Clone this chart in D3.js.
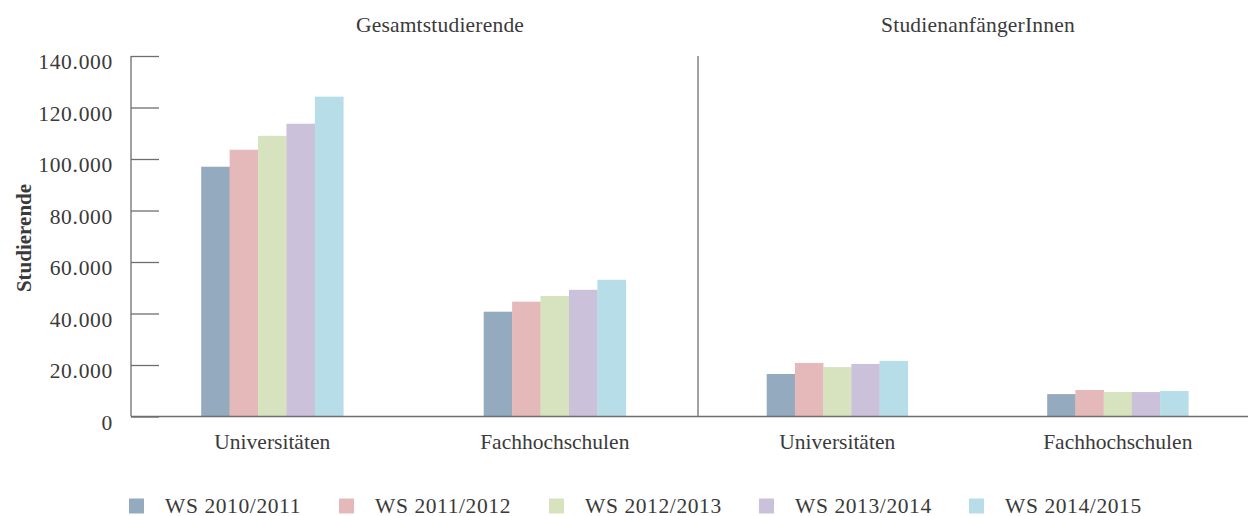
<!DOCTYPE html>
<html>
<head>
<meta charset="utf-8">
<script src="https://cdn.jsdelivr.net/npm/d3@7"></script>
<style>
  html, body { margin: 0; padding: 0; background: #fff; }
  svg { display: block; font-family: "Liberation Serif", "DejaVu Serif", serif; }
</style>
</head>
<body>
<svg id="chart" width="1248" height="516"></svg>
<script>
const panels = ["Gesamtstudierende", "StudienanfängerInnen"];
const categories = ["Universitäten", "Fachhochschulen"];
const series = ["WS 2010/2011", "WS 2011/2012", "WS 2012/2013", "WS 2013/2014", "WS 2014/2015"];
const colors = ["#94aabe", "#e5b9b9", "#d7e3bf", "#ccc1da", "#b7dee8"];
const gesamtUni = [97000, 103600, 109000, 113700, 124200];
const gesamtFH = [40700, 44600, 46800, 49200, 53100];
const anfUni = [16500, 20800, 19200, 20400, 21600];
const anfFH = [8700, 10300, 9500, 9500, 9900];
const yTicks = [0, 20000, 40000, 60000, 80000, 100000, 120000, 140000];
const yLabel = "Studierende";

const data = [
  [gesamtUni, gesamtFH],
  [anfUni, anfFH]
];

const svg = d3.select("#chart");
const textColor = "#3a3a3a";
const axisColor = "#6e6e6e";
const fs = 21.5;

const y = d3.scaleLinear().domain([0, 140000]).range([416.5, 56]);
const locale = d3.formatLocale({decimal: ",", thousands: ".", grouping: [3], currency: ["", "€"]});
const fmt = locale.format(",");

const panelRanges = [[131, 696], [697, 1258]];
const titleX = [440, 978];

// y axis
const yAxis = d3.axisLeft(y).tickValues(yTicks).tickFormat(fmt).tickSize(-28).tickPadding(18);
const gy = svg.append("g").attr("transform", "translate(131,0)").call(yAxis);
gy.select(".domain").attr("stroke", axisColor).attr("stroke-width", 1.3).attr("d", `M0,${y(140000)}V${y(0)}`);
gy.selectAll(".tick line").attr("stroke", axisColor).attr("stroke-width", 1.3);
gy.selectAll(".tick text")
  .attr("fill", textColor).attr("font-size", fs).attr("font-family", "Liberation Serif")
  .attr("letter-spacing", "0.7px")
  .attr("dy", "0.6em");

// y label
svg.append("text")
  .attr("transform", `translate(31,238) rotate(-90)`)
  .attr("text-anchor", "middle")
  .attr("font-weight", "bold")
  .attr("font-size", 21)
  .attr("fill", textColor)
  .text(yLabel);

panels.forEach((p, pi) => {
  const x0 = d3.scaleBand().domain(categories).range(panelRanges[pi])
    .paddingInner(0.497).paddingOuter(0.2485);
  const x1 = d3.scaleBand().domain(series).range([0, x0.bandwidth()]);

  const g = svg.append("g");
  categories.forEach((c, ci) => {
    g.selectAll(null).data(data[pi][ci]).enter().append("rect")
      .attr("x", (d, i) => x0(c) + x1(series[i]))
      .attr("width", x1.bandwidth() + 0.3)
      .attr("y", d => y(d))
      .attr("height", d => y(0) - y(d))
      .attr("fill", (d, i) => colors[i]);
  });

  const xAxis = d3.axisBottom(x0).tickSize(0).tickPadding(17);
  const gx = svg.append("g").attr("transform", `translate(0,${y(0)})`).call(xAxis);
  gx.select(".domain").remove();
  gx.selectAll(".tick text").attr("fill", textColor).attr("font-size", fs).attr("font-family", "Liberation Serif");

  svg.append("text")
    .attr("x", titleX[pi]).attr("y", 32)
    .attr("text-anchor", "middle")
    .attr("font-size", fs)
    .attr("letter-spacing", "0.2px")
    .attr("fill", textColor)
    .text(p);
});

// baseline and separator
svg.append("line").attr("x1", 131).attr("x2", 1248).attr("y1", y(0)).attr("y2", y(0))
  .attr("stroke", axisColor).attr("stroke-width", 1.5);
svg.append("line").attr("x1", 698).attr("x2", 698).attr("y1", y(140000)).attr("y2", y(0))
  .attr("stroke", axisColor).attr("stroke-width", 1.3);

// legend
const legend = svg.append("g");
series.forEach((s, i) => {
  const lx = 129 + i * 210;
  legend.append("rect").attr("x", lx).attr("y", 498.5).attr("width", 15).attr("height", 15).attr("fill", colors[i]);
  legend.append("text").attr("x", lx + 36).attr("y", 512.5)
    .attr("font-size", fs).attr("letter-spacing", "0.6px").attr("fill", textColor).text(s);
});
</script>
</body>
</html>
